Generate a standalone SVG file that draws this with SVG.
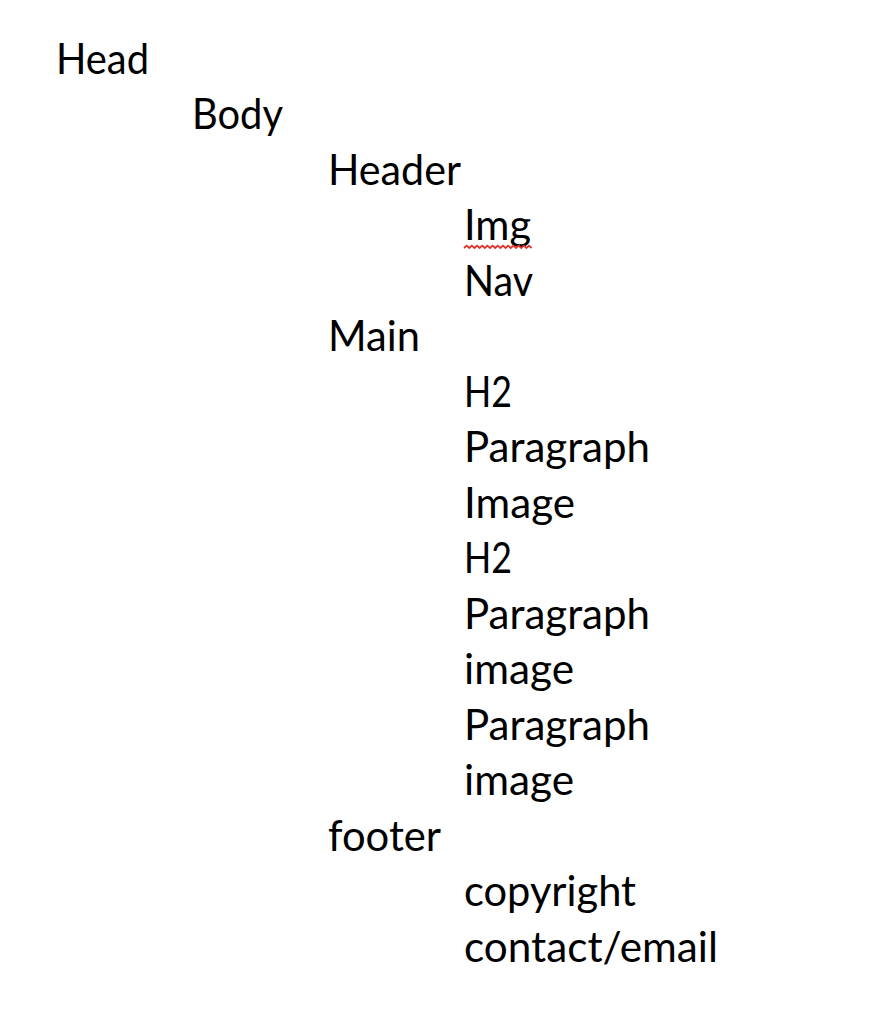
<svg xmlns="http://www.w3.org/2000/svg" width="876" height="1020" viewBox="0 0 876 1020">
<style>
text{font-family:Lato,"Open Sans","Liberation Sans",sans-serif;font-size:42px;fill:#000}
.sq{fill:none;stroke:#e0352b;stroke-width:1.8}
</style>
<rect width="876" height="1020" fill="#fff"/>
<g id="head"><text x="56" y="74" textLength="93" lengthAdjust="spacingAndGlyphs">Head</text></g>
<g id="body"><text x="192" y="129" textLength="91" lengthAdjust="spacingAndGlyphs">Body</text></g>
<g id="header"><text x="328" y="185" textLength="133" lengthAdjust="spacingAndGlyphs">Header</text></g>
<g id="img"><text x="464" y="240" textLength="67" lengthAdjust="spacingAndGlyphs">Img</text>
<path class="sq" d="M464 248 l2.6 -2.4 l2.6 2.4 l2.6 -2.4 l2.6 2.4 l2.6 -2.4 l2.6 2.4 l2.6 -2.4 l2.6 2.4 l2.6 -2.4 l2.6 2.4 l2.6 -2.4 l2.6 2.4 l2.6 -2.4 l2.6 2.4 l2.6 -2.4 l2.6 2.4 l2.6 -2.4 l2.6 2.4 l2.6 -2.4 l2.6 2.4 l2.6 -2.4 l2.6 2.4 l2.6 -2.4 l2.6 2.4 l2.6 -2.4 l2.6 2.4"/></g>
<g id="nav"><text x="464" y="296" textLength="69" lengthAdjust="spacingAndGlyphs">Nav</text></g>
<g id="main"><text x="328" y="351" textLength="92" lengthAdjust="spacingAndGlyphs">Main</text></g>
<g id="h2a"><text x="464" y="407" textLength="48" lengthAdjust="spacingAndGlyphs">H2</text></g>
<g id="para1"><text x="464" y="462" textLength="186" lengthAdjust="spacingAndGlyphs">Paragraph</text></g>
<g id="image1"><text x="464" y="518" textLength="111" lengthAdjust="spacingAndGlyphs">Image</text></g>
<g id="h2b"><text x="464" y="573" textLength="48" lengthAdjust="spacingAndGlyphs">H2</text></g>
<g id="para2"><text x="464" y="629" textLength="186" lengthAdjust="spacingAndGlyphs">Paragraph</text></g>
<g id="image2"><text x="464" y="684" textLength="110" lengthAdjust="spacingAndGlyphs">image</text></g>
<g id="para3"><text x="464" y="740" textLength="186" lengthAdjust="spacingAndGlyphs">Paragraph</text></g>
<g id="image3"><text x="464" y="795" textLength="110" lengthAdjust="spacingAndGlyphs">image</text></g>
<g id="footer"><text x="328" y="851" textLength="113" lengthAdjust="spacingAndGlyphs">footer</text></g>
<g id="copyright"><text x="464" y="906" textLength="172" lengthAdjust="spacingAndGlyphs">copyright</text></g>
<g id="contact"><text x="464" y="962" textLength="254" lengthAdjust="spacingAndGlyphs">contact/email</text></g>
<g id="connectors"></g>
</svg>
